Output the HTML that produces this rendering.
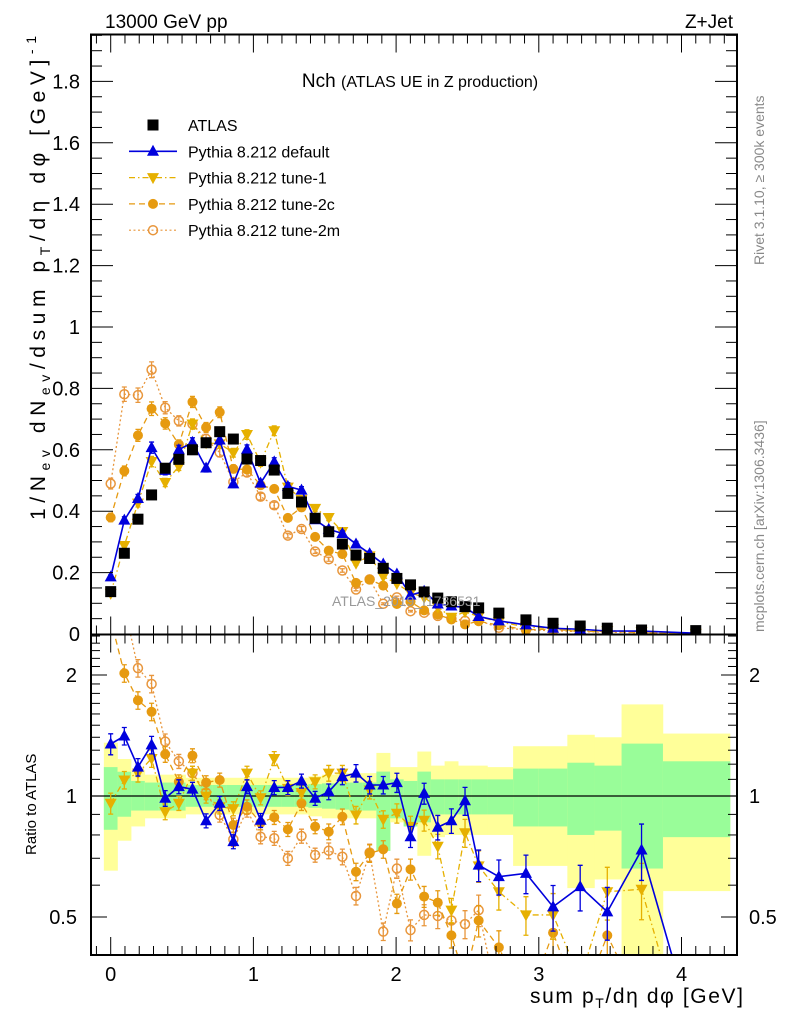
<!DOCTYPE html>
<html><head><meta charset="utf-8"><style>
html,body{margin:0;padding:0;background:#fff;overflow:hidden;width:786px;height:1024px}
svg{display:block;font-family:"Liberation Sans",Arial,sans-serif}
</style></head><body>
<svg id="chart" width="786" height="1024" viewBox="0 0 786 1024">
<defs>
<clipPath id="clipMain"><rect x="91" y="34.5" width="646" height="600"/></clipPath>
<clipPath id="clipRatio"><rect x="91" y="634.5" width="646" height="320.5"/></clipPath>
</defs>
<g id="bands" clip-path="url(#clipRatio)"></g>
<g id="mainMarks" clip-path="url(#clipMain)"></g>
<g id="ratioMarks" clip-path="url(#clipRatio)"></g>
<g id="axes"></g>
<text x="105" y="28" font-size="19">13000 GeV pp</text>
<text x="733" y="28" font-size="19" text-anchor="end">Z+Jet</text>
<text x="420" y="87" font-size="19" text-anchor="middle">Nch <tspan font-size="16">(ATLAS UE in Z production)</tspan></text>
<text x="332" y="606" font-size="14" fill="#999">ATLAS_2019_I1736531</text>
<text transform="translate(764,265) rotate(-90)" font-size="14" fill="#888">Rivet 3.1.10, ≥ 300k events</text>
<text transform="translate(764,632) rotate(-90)" font-size="14" fill="#888">mcplots.cern.ch [arXiv:1306.3436]</text>
<text transform="translate(45,520) rotate(-90)" font-size="21" textLength="484" lengthAdjust="spacing">1/N<tspan font-size="14" dy="5">ev</tspan><tspan dy="-5"> dN</tspan><tspan font-size="14" dy="5">ev</tspan><tspan dy="-5">/dsum p</tspan><tspan font-size="14" dy="5">T</tspan><tspan dy="-5">/dη dφ  [GeV]</tspan><tspan font-size="14" dy="-9">-1</tspan></text>
<text transform="translate(36,855) rotate(-90)" font-size="15">Ratio to ATLAS</text>
<text x="530" y="1003" font-size="21" textLength="213" lengthAdjust="spacing">sum p<tspan font-size="14" dy="5">T</tspan><tspan dy="-5">/dη dφ [GeV]</tspan></text>
<g id="legend"></g>
</svg>
<script>
const xCenters=[0,0.0955,0.191,0.2865,0.382,0.4775,0.573,0.6685,0.764,0.8595,0.955,1.0505,1.146,1.2415,1.337,1.4325,1.528,1.6235,1.719,1.8145,1.91,2.0055,2.101,2.1965,2.292,2.3875,2.483,2.5785,2.72,2.91,3.1,3.29,3.48,3.72,4.1];
const binEdges=[-0.048,0.048,0.143,0.239,0.334,0.43,0.525,0.621,0.716,0.812,0.907,1.003,1.098,1.194,1.289,1.385,1.48,1.576,1.671,1.767,1.862,1.958,2.053,2.149,2.244,2.34,2.435,2.531,2.64,2.82,3.0,3.2,3.39,3.58,3.87,4.34];
const atlasValues=[0.138,0.263,0.374,0.453,0.54,0.569,0.60,0.623,0.659,0.635,0.57,0.565,0.534,0.458,0.43,0.377,0.333,0.293,0.257,0.246,0.214,0.181,0.16,0.137,0.117,0.105,0.089,0.085,0.068,0.046,0.035,0.026,0.019,0.013,0.011];
const yellowHi=[1.357,1.236,1.16,1.13,1.13,1.13,1.11,1.11,1.11,1.11,1.11,1.11,1.11,1.11,1.11,1.12,1.13,1.14,1.14,1.14,1.28,1.18,1.18,1.29,1.19,1.22,1.19,1.19,1.18,1.33,1.33,1.42,1.40,1.69,1.43];
const yellowLo=[0.652,0.774,0.84,0.88,0.88,0.88,0.9,0.9,0.9,0.9,0.9,0.9,0.9,0.9,0.9,0.89,0.88,0.88,0.88,0.88,0.73,0.86,0.84,0.71,0.79,0.8,0.8,0.8,0.8,0.67,0.67,0.59,0.62,0.3,0.58];
const greenHi=[1.18,1.149,1.09,1.08,1.08,1.08,1.065,1.065,1.065,1.065,1.065,1.065,1.065,1.065,1.065,1.07,1.075,1.08,1.08,1.08,1.15,1.1,1.09,1.15,1.1,1.1,1.1,1.1,1.1,1.17,1.17,1.21,1.19,1.35,1.22];
const greenLo=[0.824,0.888,0.92,0.92,0.92,0.92,0.94,0.94,0.94,0.94,0.94,0.94,0.94,0.94,0.94,0.935,0.93,0.925,0.92,0.92,0.73,0.88,0.84,0.86,0.9,0.9,0.9,0.9,0.9,0.84,0.84,0.80,0.82,0.66,0.79];
const ratioDefault=[1.347,1.41,1.18,1.34,0.987,1.055,1.04,0.868,0.959,0.77,1.055,0.87,1.05,1.05,1.09,0.987,1.025,1.117,1.14,1.065,1.065,1.08,0.792,1.015,0.836,0.868,0.973,0.673,0.63,0.642,0.53,0.595,0.515,0.734,0.25];
const ratioTune1=[0.959,1.096,1.14,1.24,0.914,0.959,1.14,1.0,0.94,0.93,1.14,0.99,1.24,1.045,1.02,1.085,1.14,1.14,0.897,1.035,0.875,0.906,0.84,0.87,0.75,0.52,0.81,0.67,0.578,0.506,0.506,0.35,0.578,0.586,0.2];
const ratioTune2c=[2.75,2.02,1.73,1.62,1.27,1.085,1.26,1.08,1.096,0.847,0.94,0.858,0.885,0.826,0.959,0.839,0.815,0.888,0.648,0.72,0.737,0.54,0.657,0.562,0.543,0.45,0.35,0.49,0.42,0.3,0.457,0.3,0.45,0.3,0.3];
const ratioTune2m=[3.55,2.97,2.08,1.9,1.365,1.22,1.14,1.02,0.897,0.78,0.923,0.792,0.785,0.70,0.795,0.713,0.731,0.706,0.564,0.723,0.46,0.66,0.464,0.506,0.503,0.49,0.48,0.52,0.3,0.3,0.3,0.3,0.3,0.3,0.3];
const modelErr=[0.06,0.05,0.05,0.05,0.045,0.04,0.04,0.04,0.04,0.04,0.04,0.04,0.04,0.04,0.04,0.04,0.045,0.045,0.05,0.05,0.05,0.055,0.06,0.06,0.07,0.07,0.08,0.09,0.1,0.11,0.13,0.13,0.15,0.16,0.2];
const mainYTicks=[0.2,0.4,0.6,0.8,1,1.2,1.4,1.6,1.8];
const mainYLabels=["0.2","0.4","0.6","0.8","1","1.2","1.4","1.6","1.8"];
const xTicks=[0,1,2,3,4];
const ratioTicks=[0.5,1,2];
const ratioLabels=["0.5","1","2"];

const NS="http://www.w3.org/2000/svg";
const L=91,R=737,MT=34.5,MB=634.5,RT=634.5,RB=955;
const xPx=v=>110.7+v*142.7;
const yMain=v=>634-v*307;
const yRatio=v=>796-Math.log2(v)*121;
function mk(tag,attrs,parent){const e=document.createElementNS(NS,tag);for(const k in attrs)e.setAttribute(k,attrs[k]);parent.appendChild(e);return e;}

const bands=document.getElementById('bands');
for(let i=0;i<xCenters.length;i++){
  const x0=xPx(binEdges[i]),x1=xPx(binEdges[i+1]);
  const y=mk('rect',{x:x0,y:yRatio(yellowHi[i]),width:x1-x0+0.3,height:yRatio(yellowLo[i])-yRatio(yellowHi[i]),fill:'#ffff99'},bands);
  
  
  const g=mk('rect',{x:x0,y:yRatio(greenHi[i]),width:x1-x0+0.3,height:yRatio(greenLo[i])-yRatio(greenHi[i]),fill:'#99fd99'},bands);
  
  
}
const unity=mk('line',{x1:L,x2:R,y1:yRatio(1),y2:yRatio(1),stroke:'#000','stroke-width':1.2},document.getElementById('ratioMarks'));



function marker(kind,x,y,color,parent){
  let e;
  if(kind==='square')e=mk('rect',{x:x-5.5,y:y-5.5,width:11,height:11,fill:'#000'},parent);
  else if(kind==='up')e=mk('polygon',{points:`${x},${y-6.5} ${x-6},${y+4.5} ${x+6},${y+4.5}`,fill:color},parent);
  else if(kind==='down')e=mk('polygon',{points:`${x},${y+6.5} ${x-6},${y-4.5} ${x+6},${y-4.5}`,fill:color},parent);
  else if(kind==='dot')e=mk('circle',{cx:x,cy:y,r:5,fill:color},parent);
  else e=mk('circle',{cx:x,cy:y,r:4.5,fill:'none',stroke:color,'stroke-width':1.5},parent);
  return e;
}
const series=[
 {name:'tune-2m',ratio:ratioTune2m,color:'#e8963c',kind:'open',dash:'2,2.5',w:1.3},
 {name:'tune-2c',ratio:ratioTune2c,color:'#e69a10',kind:'dot',dash:'6,4',w:1.3},
 {name:'tune-1',ratio:ratioTune1,color:'#e6b000',kind:'down',dash:'6,3,1.5,3',w:1.3},
 {name:'default',ratio:ratioDefault,color:'#0000dd',kind:'up',dash:'',w:1.6}
];
function drawSeries(parent,yf,valFn,errFn,tag){
  series.forEach(s=>{
    const g=mk('g',{},parent);
    
    
    const pts=xCenters.map((x,i)=>xPx(x)+','+yf(valFn(s,i))).join(' ');
    const pl=mk('polyline',{points:pts,fill:'none',stroke:s.color,'stroke-width':s.w,'stroke-dasharray':s.dash},g);
    
    
    xCenters.forEach((x,i)=>{
      const v=valFn(s,i),e=errFn(s,i),px=xPx(x);
      const lo=yf(Math.max(v-e,1e-3)),hi=yf(v+e);
      const eb=mk('path',{d:`M${px},${hi}V${lo}M${px-2.5},${hi}h5M${px-2.5},${lo}h5`,stroke:s.color,'stroke-width':1.3,fill:'none'},g);
      
      
      const m=marker(s.kind,px,yf(v),s.color,g);
      
      
    });
  });
}
const mainMarks=document.getElementById('mainMarks');
drawSeries(mainMarks,yMain,(s,i)=>s.ratio[i]*atlasValues[i],(s,i)=>s.ratio[i]*atlasValues[i]*modelErr[i]*0.6,'main');
const dataG=mk('g',{},mainMarks);


xCenters.forEach((x,i)=>{
  const m=marker('square',xPx(x),yMain(atlasValues[i]),'#000',dataG);
  
  
});
drawSeries(document.getElementById('ratioMarks'),yRatio,(s,i)=>s.ratio[i],(s,i)=>s.ratio[i]*modelErr[i],'ratio');

const ax=document.getElementById('axes');
function ln(x1,y1,x2,y2,w){return mk('line',{x1:x1,y1:y1,x2:x2,y2:y2,stroke:'#000','stroke-width':w||1},ax);}
mk('rect',{x:L,y:MT,width:R-L,height:RB-MT,fill:'none',stroke:'#000','stroke-width':2},ax);
ln(L,MB,R,MB,2);
for(let k=-1;k<=43;k++){
  const v=k/10,px=xPx(v);if(px<L||px>R)continue;
  const maj=(k%10===0);const len=maj?18:9;
  [[MT,1],[MB,-1],[RT,1],[RB,-1]].forEach(([y,d])=>ln(px,y,px,y+d*len,1));
}
xTicks.forEach((v,i)=>{const t=mk('text',{x:xPx(v),y:981,'font-size':20,'text-anchor':'middle'},ax);t.textContent=String(v);});
for(let k=1;k<=39;k++){
  const v=k*0.05,py=yMain(v);if(py<MT)continue;
  const maj=(k%4===0);const len=maj?22:11;
  ln(L,py,L+len,py,1);ln(R,py,R-len,py,1);
}
mainYTicks.forEach((v,i)=>{const t=mk('text',{x:80,y:yMain(v)+7,'font-size':20,'text-anchor':'end'},ax);t.textContent=mainYLabels[i];});
{const t=mk('text',{x:80,y:641,'font-size':20,'text-anchor':'end'},ax);t.textContent='0';}
for(let k=4;k<=25;k++){
  const v=k/10,py=yRatio(v);if(py<RT||py>RB)continue;
  const maj=(k===5||k===10||k===20);const len=maj?16:9;
  ln(L,py,L+len,py,1);ln(R,py,R-len,py,1);
}
ratioTicks.forEach((v,i)=>{
  const t=mk('text',{x:77,y:yRatio(v)+7,'font-size':20,'text-anchor':'end'},ax);t.textContent=ratioLabels[i];
  const t2=mk('text',{x:749,y:yRatio(v)+7,'font-size':20},ax);t2.textContent=ratioLabels[i];
});

const lg=document.getElementById('legend');
const legendItems=[['ATLAS','square','#000',''],['Pythia 8.212 default','up','#0000dd',''],['Pythia 8.212 tune-1','down','#e6b000','6,3,1.5,3'],['Pythia 8.212 tune-2c','dot','#e69a10','6,4'],['Pythia 8.212 tune-2m','open','#e8963c','2,2.5']];
legendItems.forEach((it,i)=>{
  const y=125+i*26.3;
  const g=mk('g',{},lg);
  
  
  if(i>0)mk('line',{x1:129,x2:177,y1:y,y2:y,stroke:it[2],'stroke-width':i===1?1.6:1.2,'stroke-dasharray':it[3]},g);
  marker(it[1],153,y,it[2],g);
  const t=mk('text',{x:188,y:y+6,'font-size':16},g);t.textContent=it[0];
});
</script>
</body></html>
